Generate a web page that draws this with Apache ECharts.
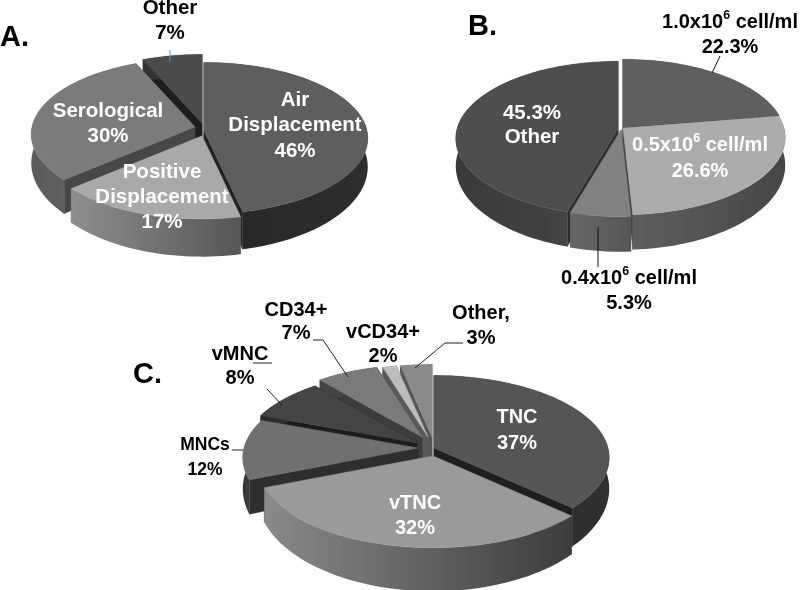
<!DOCTYPE html>
<html><head><meta charset="utf-8">
<style>html,body{margin:0;padding:0;background:#fff}#c{width:800px;height:590px}</style>
<script src="https://cdn.jsdelivr.net/npm/echarts@6/dist/echarts.min.js"></script>
</head><body><div id="c"></div>
<script>
// ---------- data ----------
const pieAValues = [46, 17, 30, 7];
const pieBValues = [22.3, 26.6, 5.3, 45.3];
const pieCValues = [37, 32, 12, 8, 7, 2, 3];
const pieATexts = [['Air','Displacement','46%'],['Positive','Displacement','17%'],['Serological','30%'],['Other','7%']];
const pieBTexts = [['1.0x10|6| cell/ml','22.3%'],['0.5x10|6| cell/ml','26.6%'],['0.4x10|6| cell/ml','5.3%'],['45.3%','Other']];
const pieCTexts = [['TNC','37%'],['vTNC','32%'],['MNCs','12%'],['vMNC','8%'],['CD34+','7%'],['vCD34+','2%'],['Other,','3%']];
const panelTitles = ['A.','B.','C.'];

// ---------- layout & style ----------
const W='#fff', K='#000';
const panels = [
 {values:pieAValues, rx:163, ry:75, p:.095, depth:28, pow:3, edgeShift:[2,2,2], order:[3,0,2,1],
  slices:[
   {ax:204,ay:131,top:'#5e5e5e',rim:['#262626','#2e2e2e'],face:'#222'},
   {ax:202,ay:136,top:'#a9a9a9',rim:['#8e8e8e','#565656'],face:'#666'},
   {ax:195,ay:127,top:'#7b7b7b',rim:['#5a5a5a','#6c6c6c'],face:'#474747'},
   {ax:202,ay:123,top:'#4b4b4b',rim:['#333','#333'],face:'#1e1e1e'}]},
 {values:pieBValues, rx:161, ry:76, p:.123, depth:27, pow:2, edgeShift:[0,0,0], order:[0,3,1,2],
  slices:[
   {ax:623,ay:127,top:'#5f5f5f',rim:['#444','#444'],face:'#222'},
   {ax:623,ay:128,top:'#acacac',rim:['#5e5e5e','#464646'],face:'#444'},
   {ax:621,ay:130,top:'#818181',rim:['#666','#565656'],face:'#555'},
   {ax:618,ay:129,top:'#4e4e4e',rim:['#3a3a3a','#474747'],face:'#2e2e2e'}]},
 {values:pieCValues, rx:174, ry:81, p:.117, depth:30, pow:3, edgeShift:[1,2,2,3,1,-1], order:[6,5,4,3,0,2,1],
  slices:[
   {ax:434,ay:448,top:'#555',rim:['#262626','#303030'],face:'#1f1f1f'},
   {ax:433,ay:456,top:'#9a9a9a',rim:['#8a8a8a','#3c3c3c'],face:'#444'},
   {ax:418,ay:448,top:'#707070',rim:['#303030','#555'],face:'#2e2e2e'},
   {ax:417,ay:443,top:'#444',rim:['#2a2a2a','#333'],face:'#1c1c1c'},
   {ax:422,ay:437,top:'#7a7a7a',rim:['#444','#444'],face:'#3c3c3c'},
   {ax:428,ay:437,top:'#bdbdbd',rim:['#555','#555'],face:'#5a5a5a'},
   {ax:432,ay:437,top:'#8a8a8a',rim:['#555','#555'],face:'#555'}]}
];

// text layout: one entry per text block: [centre x, first line centre y, line height, size, colour]
const textLayout = [
 [[295,100,25.5,20.5,W],[162,172,25,20.5,W],[108,111,25,20.5,W],[170,8,25.5,20.5,K]],
 [[730,22,25,20,K],[700,145,26,20,W],[629,278,25,20,K],[532,113,24,20.5,W]],
 [[517,417,26,20,W],[415,503,25,20,W],[205,445,25,17.5,K],[240,354,24,20,K],[296,310,23,20,K],[383,332,24,20,K],[481,313,25,20,K]]
];
const titleLayout = [[0,38],[468,27],[133,375]];
const leaders = [
 {pts:[[170,50],[170,62]],c:'#5b93ad'},
 {pts:[[720,56],[712,73]],c:'#111'},
 {pts:[[598,227],[598,267]],c:'#111'},
 {pts:[[313,340],[323,340],[348,377]],c:'#222'},
 {pts:[[463,343],[445,343],[415,368]],c:'#222'},
 {pts:[[267,389],[282,405]],c:'#222'},
 {pts:[[253,363],[272,363]],c:'#222'},
 {pts:[[232,450],[243,450]],c:'#222'}
];

// ---------- geometry ----------
function project(pan, s, deg){
  const t = deg*Math.PI/180, k = 1/(1+pan.p*Math.cos(t));
  return [s.ax+pan.rx*Math.sin(t)*k, s.ay-pan.ry*Math.cos(t)*k, k];
}
function buildRows(pan){
  const total = pan.values.reduce((a,b)=>a+b,0);
  const last = pan.values.length-1;
  let acc=0; const rows=[];
  pan.values.forEach((v,i)=>{
    const t0=acc/total*360+(i===0?0:pan.edgeShift[i-1]);
    acc+=v;
    const t1=acc/total*360+(i===last?0:pan.edgeShift[i]);
    rows[i]=[v,t0,t1,i];
  });
  return pan.order.map(i=>rows[i]);
}
function makeRender(pan){
  return function(params, api){
    const t0=api.value(1), t1=api.value(2), s=pan.slices[api.value(3)];
    const arc=[], n=Math.max(2,Math.ceil((t1-t0)/2));
    for(let i=0;i<=n;i++) arc.push(project(pan,s,t0+(t1-t0)*i/n));
    const topPts=arc.map(a=>[a[0],a[1]]);
    const low=arc.map(a=>[a[0],a[1]+pan.depth*Math.pow(a[2],pan.pow)]);
    const A=[s.ax,s.ay], A2=[s.ax,s.ay+pan.depth];
    const poly=(pts,fill,st)=>({type:'polygon',shape:{points:pts},style:{fill:fill,stroke:st||fill,lineWidth:.5},silent:true});
    const rimFill={type:'linear',x:0,y:0,x2:1,y2:0,colorStops:[{offset:0,color:s.rim[0]},{offset:1,color:s.rim[1]}]};
    return {type:'group',children:[
      poly([A,topPts[0],low[0],A2],s.face),
      poly([A,topPts[n],low[n],A2],s.face),
      poly(topPts.concat(low.slice().reverse()),rimFill,'transparent'),
      poly([A].concat(topPts),s.top)
    ]};
  };
}

// ---------- graphics ----------
const graphics=[];
function lineText(str,size,col,x,y){
  const parts=str.split('|');
  const base={fontSize:size,fontWeight:'bold',fontFamily:'Liberation Sans',fill:col,lineHeight:size+4};
  const st={x:x,y:y,align:'center',verticalAlign:'middle',textAlign:'center',textVerticalAlign:'middle',fill:col,
    fontSize:size,fontWeight:'bold',fontFamily:'Liberation Sans'};
  if(parts.length===3){
    st.text='{a|'+parts[0]+'}{s|'+parts[1]+'}{a|'+parts[2]+'}';
    st.rich={a:base,s:Object.assign({},base,{fontSize:size*.62,verticalAlign:'top',lineHeight:size*.62,padding:[0,0,size*.5,0]})};
  } else st.text=str;
  return {type:'text',silent:true,z:10,style:st};
}
[pieATexts,pieBTexts,pieCTexts].forEach((texts,pi)=>{
  texts.forEach((lines,i)=>{
    const l=textLayout[pi][i];
    lines.forEach((str,j)=>graphics.push(lineText(str,l[3],l[4],l[0],l[1]+j*l[2])));
  });
});
panelTitles.forEach((t,i)=>graphics.push({type:'text',silent:true,z:10,style:{text:t,x:titleLayout[i][0],y:titleLayout[i][1],
  textAlign:'left',textVerticalAlign:'middle',fontSize:29,fontWeight:'bold',fontFamily:'Liberation Sans',fill:K}}));
leaders.forEach(l=>graphics.push({type:'polyline',silent:true,z:10,shape:{points:l.pts},style:{stroke:l.c,lineWidth:1,fill:'none'}}));

const chart=echarts.init(document.getElementById('c'),null,{renderer:'canvas'});
chart.setOption({
  animation:false,
  backgroundColor:'#fff',
  series:panels.map(pan=>({type:'custom',coordinateSystem:'none',renderItem:makeRender(pan),data:buildRows(pan),silent:true})),
  graphic:graphics
});
</script></body></html>
